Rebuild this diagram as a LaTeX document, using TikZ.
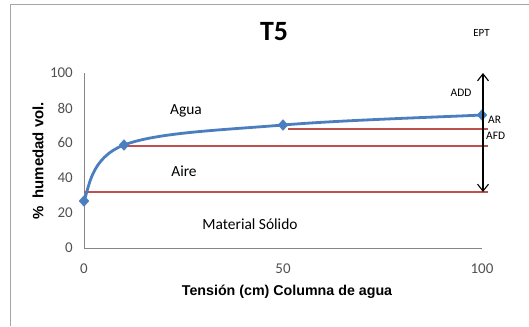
\documentclass[tikz,border=0pt]{standalone}
\usepackage{fontspec}
\setmainfont{Carlito}
\newfontfamily\arialfont{Liberation Sans}
\usetikzlibrary{arrows.meta,shapes.geometric}
\definecolor{serie}{RGB}{74,126,190}
\definecolor{rojo}{RGB}{192,80,77}
\definecolor{ticktext}{RGB}{80,80,80}
\definecolor{eje}{RGB}{134,134,134}
\definecolor{marco}{RGB}{165,165,165}
\begin{document}
\begin{tikzpicture}[x=1bp,y=-1bp,
  ticklab/.style={text=ticktext,font=\fontsize{15}{15}\selectfont,inner sep=0pt},
  axtitle/.style={font=\arialfont\bfseries\fontsize{14.3}{14.3}\selectfont,inner sep=0pt},
  region/.style={font=\fontsize{15.5}{15.5}\selectfont,inner sep=0pt},
  small/.style={font=\fontsize{11.5}{11.5}\selectfont,inner sep=0pt},
  marker/.style={diamond,fill=serie,draw=serie,inner sep=0pt,minimum width=10bp,minimum height=11bp},
  redline/.style={rojo,line width=1.1bp},
  axisline/.style={eje,line width=0.9bp}]
\useasboundingbox (0,0) rectangle (529,326);
% frame
\coordinate (f1) at (10.5,326);
\coordinate (f2) at (10.5,4);
\coordinate (f3) at (529,4);
\draw[marco,line width=1bp] (f1) -- (f2) -- (f3);
% axes
\coordinate (o) at (84,248);
\coordinate (ytop) at (84,73);
\coordinate (xend) at (482,248);
\draw[axisline] (ytop) -- (o) -- (xend);
% y tick labels
\node[ticklab,anchor=east] (y0) at (73,248) {0};
\node[ticklab,anchor=east] (y20) at (73,213) {20};
\node[ticklab,anchor=east] (y40) at (73,178) {40};
\node[ticklab,anchor=east] (y60) at (73,143) {60};
\node[ticklab,anchor=east] (y80) at (73,108) {80};
\node[ticklab,anchor=east] (y100) at (73,73) {100};
% x tick labels
\node[ticklab] (x0) at (84,269) {0};
\node[ticklab] (x50) at (283,269) {50};
\node[ticklab] (x100) at (482,269) {100};
% titles
\node[font=\bfseries\fontsize{28}{28}\selectfont,inner sep=0pt] (title) at (274,32) {T5};
\node[axtitle] (xtitle) at (287,292) {Tensión (cm) Columna de agua};
\node[font=\arialfont\bfseries\fontsize{15}{15}\selectfont,inner sep=0pt,rotate=90] (ytitle) at (38,161) {\%\ \ humedad vol.};
% red lines
\coordinate (r1a) at (84,192);
\coordinate (r1b) at (488,192);
\coordinate (r2a) at (124,146);
\coordinate (r2b) at (488,146);
\coordinate (r3a) at (288,129);
\coordinate (r3b) at (488,129);
\draw[redline] (r1a) -- (r1b);
\draw[redline] (r2a) -- (r2b);
\draw[redline] (r3a) -- (r3b);
% curve
\coordinate (p0) at (84,201);
\coordinate (p1) at (124,145);
\coordinate (p2) at (283,125);
\coordinate (p3) at (482,115);
\draw[serie,line width=2.8bp,line cap=round]
  (p0) .. controls (89,189) and (90,158) .. (p1)
       .. controls (157.2,132.3) and (223.3,130) .. (p2)
       .. controls (342.7,120) and (448.8,116.7) .. (p3);
\node[marker] (m0) at (p0) {};
\node[marker] (m1) at (p1) {};
\node[marker] (m2) at (p2) {};
\node[marker] (m3) at (p3) {};
% arrow
\coordinate (abot) at (483,192);
\coordinate (atop) at (483,73);
\draw[black,line width=1.1bp,{Straight Barb[length=7bp,width=11bp]}-{Straight Barb[length=7bp,width=11bp]}] (abot) -- (atop);
% labels
\node[region] (agua) at (186,111) {Agua};
\node[region] (aire) at (184,171) {Aire};
\node[region] (solido) at (250,224) {Material Sólido};
\node[font=\fontsize{11}{11}\selectfont,inner sep=0pt] (ept) at (481.5,33) {EPT};
\node[small] (add) at (461,93) {ADD};
\node[small,anchor=west] (ar) at (488,120) {AR};
\node[small,anchor=west] (afd) at (486,136) {AFD};
\end{tikzpicture}
\end{document}
